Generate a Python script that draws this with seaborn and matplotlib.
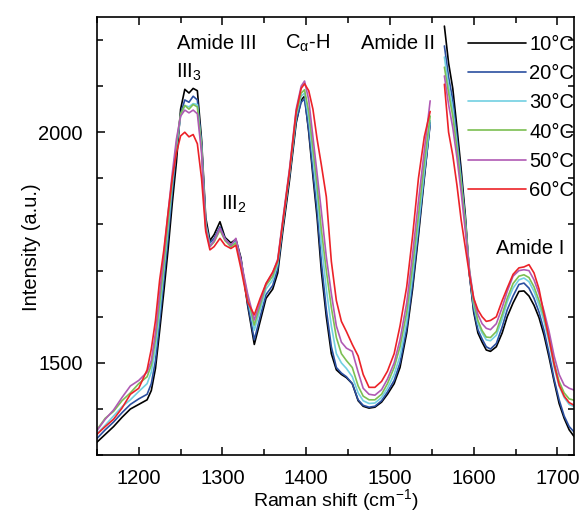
import pandas as pd
import matplotlib
matplotlib.use('Agg')
import matplotlib.pyplot as plt
import seaborn as sns
from matplotlib.ticker import MultipleLocator

# Raman shift grid, split in two pieces (gap near 1555 cm-1)
shift_a = [1150, 1160, 1170, 1180, 1190, 1200, 1210, 1215, 1220, 1225,
           1230, 1235, 1240, 1245, 1250, 1255, 1260, 1265, 1270, 1275,
           1280, 1285, 1290, 1297, 1303, 1310, 1316, 1322, 1330, 1338,
           1345, 1352, 1360, 1366, 1372, 1380, 1388, 1394, 1398, 1403,
           1408, 1413, 1418, 1424, 1430, 1436, 1442, 1448, 1455, 1462,
           1468, 1475, 1482, 1490, 1497, 1505, 1512, 1520, 1527, 1534,
           1541, 1548]
shift_b = [1565, 1570, 1575, 1580, 1585, 1590, 1595, 1600, 1605, 1610,
           1615, 1620, 1627, 1634, 1640, 1647, 1654, 1660, 1666, 1672,
           1678, 1684, 1690, 1696, 1702, 1708, 1714, 1720]

t10_a = [1328, 1345, 1362, 1382, 1400, 1410, 1420, 1440, 1488, 1570,
         1655, 1745, 1845, 1935, 2050, 2093, 2085, 2095, 2090, 1985,
         1815, 1765, 1778, 1806, 1772, 1760, 1768, 1728, 1625, 1540,
         1590, 1640, 1660, 1695, 1785, 1895, 2020, 2070, 2078, 2000,
         1905, 1815, 1700, 1600, 1520, 1485, 1475, 1468, 1455, 1418,
         1406, 1402, 1404, 1415, 1432, 1455, 1490, 1565, 1660, 1775,
         1900, 2022]
t20_a = [1336, 1355, 1372, 1392, 1410, 1422, 1432, 1455, 1505, 1590,
         1680, 1770, 1870, 1960, 2040, 2070, 2065, 2078, 2070, 1975,
         1805, 1760, 1770, 1795, 1770, 1752, 1765, 1725, 1630, 1550,
         1600, 1648, 1668, 1705, 1795, 1905, 2025, 2065, 2072, 2005,
         1915, 1830, 1720, 1615, 1535, 1490, 1478, 1470, 1455, 1420,
         1408, 1404, 1406, 1418, 1437, 1462, 1500, 1575, 1670, 1785,
         1905, 2017]
t30_a = [1346, 1365, 1385, 1405, 1420, 1438, 1455, 1480, 1530, 1610,
         1700, 1790, 1885, 1970, 2035, 2058, 2055, 2062, 2060, 1970,
         1800, 1755, 1765, 1790, 1768, 1755, 1762, 1720, 1640, 1571,
         1615, 1660, 1680, 1715, 1800, 1910, 2035, 2078, 2085, 2030,
         1945, 1860, 1760, 1660, 1580, 1520, 1500, 1488, 1470, 1435,
         1418, 1412, 1413, 1425, 1445, 1475, 1515, 1590, 1690, 1800,
         1915, 2025]
t40_a = [1355, 1380, 1395, 1418, 1435, 1455, 1470, 1495, 1550, 1630,
         1715, 1805, 1895, 1975, 2040, 2058, 2050, 2060, 2055, 1965,
         1795, 1752, 1762, 1788, 1765, 1752, 1760, 1718, 1645, 1582,
         1625, 1668, 1688, 1720, 1805, 1915, 2040, 2085, 2092, 2045,
         1965, 1885, 1790, 1700, 1620, 1555, 1520, 1505, 1490, 1450,
         1428, 1420, 1420, 1432, 1455, 1490, 1535, 1610, 1710, 1820,
         1935, 2035]
t50_a = [1353, 1378, 1398, 1425, 1450, 1462, 1480, 1505, 1565, 1650,
         1735, 1825, 1910, 1985, 2035, 2048, 2042, 2048, 2040, 1955,
         1790, 1752, 1765, 1792, 1768, 1755, 1770, 1722, 1650, 1593,
         1632, 1672, 1695, 1725, 1810, 1920, 2050, 2100, 2111, 2070,
         1990, 1910, 1830, 1730, 1650, 1580, 1545, 1532, 1525, 1480,
         1445, 1432, 1430, 1442, 1465, 1500, 1550, 1630, 1735, 1850,
         1960, 2068]
t60_a = [1345, 1362, 1378, 1402, 1432, 1445, 1485, 1530, 1592, 1680,
         1745, 1825, 1900, 1955, 1992, 2000, 1990, 1995, 1975, 1900,
         1785, 1745, 1752, 1770, 1755, 1748, 1755, 1705, 1632, 1604,
         1640, 1672, 1697, 1722, 1805, 1915, 2045, 2095, 2105, 2090,
         2050, 1985, 1930, 1860, 1720, 1635, 1590, 1568, 1540, 1515,
         1475, 1447, 1447, 1460, 1482, 1520, 1580, 1665, 1775, 1900,
         1990, 2045]

t10_b = [2230, 2150, 2095, 2010, 1920, 1820, 1690, 1610, 1565, 1545,
         1528, 1525, 1535, 1565, 1600, 1630, 1655, 1656, 1645, 1625,
         1598, 1560, 1512, 1460, 1412, 1380, 1355, 1340]
t20_b = [2187, 2120, 2070, 1990, 1905, 1810, 1690, 1615, 1572, 1552,
         1535, 1530, 1542, 1578, 1615, 1645, 1670, 1673, 1662, 1640,
         1610, 1570, 1520, 1465, 1420, 1385, 1362, 1350]
t30_b = [2163, 2100, 2050, 1975, 1895, 1805, 1695, 1625, 1585, 1565,
         1550, 1548, 1560, 1595, 1632, 1662, 1680, 1684, 1676, 1655,
         1625, 1590, 1545, 1490, 1450, 1425, 1410, 1405]
t40_b = [2141, 2085, 2035, 1965, 1888, 1800, 1700, 1632, 1592, 1570,
         1556, 1555, 1568, 1605, 1640, 1672, 1688, 1691, 1685, 1665,
         1635, 1600, 1555, 1500, 1460, 1435, 1422, 1419]
t50_b = [2122, 2060, 2010, 1945, 1870, 1785, 1700, 1640, 1605, 1585,
         1575, 1572, 1585, 1620, 1655, 1688, 1700, 1702, 1700, 1680,
         1650, 1612, 1568, 1515, 1475, 1452, 1445, 1441]
t60_b = [2104, 2000, 1950, 1885, 1810, 1750, 1690, 1640, 1615, 1600,
         1590, 1592, 1600, 1635, 1662, 1692, 1706, 1708, 1713, 1695,
         1660, 1605, 1552, 1497, 1452, 1428, 1414, 1408]

temps = ['10°C', '20°C', '30°C', '40°C', '50°C', '60°C']
colors = ['#000000', '#2b4fa0', '#72d0e2', '#7cbf52', '#b05ab4', '#ec2228']

# long table for seaborn
rows = []
pieces = [(t10_a, t10_b), (t20_a, t20_b), (t30_a, t30_b),
          (t40_a, t40_b), (t50_a, t50_b), (t60_a, t60_b)]
for label, (ya, yb) in zip(temps, pieces):
    for x, y in zip(shift_a, ya):
        rows.append((label, 'a', x, y))
    for x, y in zip(shift_b, yb):
        rows.append((label, 'b', x, y))
df = pd.DataFrame(rows, columns=['temp', 'segment', 'shift', 'intensity'])

sns.set_style('ticks')
plt.rcParams['font.family'] = ['Liberation Sans', 'DejaVu Sans']
plt.rcParams['mathtext.fontset'] = 'custom'
plt.rcParams['mathtext.rm'] = 'Liberation Sans'
plt.rcParams['mathtext.it'] = 'Liberation Sans'
for key in ['text.color', 'axes.labelcolor', 'xtick.color', 'ytick.color',
            'axes.edgecolor']:
    plt.rcParams[key] = 'black'

fs = 14.5
fig = plt.figure(figsize=(5.8, 5.12), dpi=100)
ax = fig.add_axes([0.167, 0.111, 0.823, 0.856])
sns.lineplot(data=df, x='shift', y='intensity', hue='temp', units='segment',
             estimator=None, sort=False, palette=dict(zip(temps, colors)),
             linewidth=1.2, ax=ax)

ax.set_xlim(1150, 1720)
ax.set_ylim(1300, 2250)
ax.xaxis.set_major_locator(MultipleLocator(100))
ax.xaxis.set_minor_locator(MultipleLocator(50))
ax.yaxis.set_major_locator(MultipleLocator(500))
ax.yaxis.set_minor_locator(MultipleLocator(100))
ax.tick_params(which='major', direction='in', top=True, right=True,
               length=6, width=1.1, labelsize=fs, pad=10)
ax.tick_params(which='minor', direction='in', top=True, right=True,
               length=4, width=1.1)
for sp in ax.spines.values():
    sp.set_linewidth(1.2)

ax.set_xlabel('Raman shift (cm$^{-1}$)', fontsize=14)
ax.xaxis.set_label_coords(0.5, -0.072)
ax.set_ylabel('Intensity (a.u.)', fontsize=fs)
ax.yaxis.set_label_coords(-0.118, 0.475)

ax.legend(frameon=False, loc='upper right', bbox_to_anchor=(1.0, 0.958),
          borderaxespad=0, borderpad=0, handlelength=2.9, handletextpad=0.15,
          labelspacing=0.5, fontsize=fs)

ax.text(1293, 2192, 'Amide III', fontsize=fs, ha='center', va='center')
ax.text(1244, 2130, 'III$_3$', fontsize=fs, ha='left', va='center')
ax.text(1298, 1843, 'III$_2$', fontsize=fs, ha='left', va='center')
ax.text(1401, 2192, 'C$_\\alpha$-H', fontsize=fs, ha='center', va='center')
ax.text(1509, 2192, 'Amide II', fontsize=fs, ha='center', va='center')
ax.text(1667, 1748, 'Amide I', fontsize=fs, ha='center', va='center')

plt.savefig('out.png', dpi=100)
